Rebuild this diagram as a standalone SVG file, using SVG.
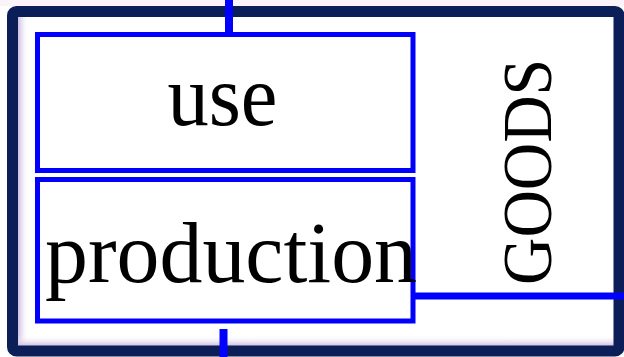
<svg xmlns="http://www.w3.org/2000/svg" width="624" height="357" viewBox="0 0 624 357">
  <style>
    .box { fill: none; stroke: #0000ff; stroke-width: 5; }
    .wire { stroke: #0000ff; fill: none; }
    .lbl { font-family: "Liberation Serif", "Times New Roman", serif; fill: #000; }
  </style>
  <defs>
    <linearGradient id="shL" x1="0" y1="0" x2="1" y2="0">
      <stop offset="0" stop-color="#cdbde0"/>
      <stop offset="1" stop-color="#ffffff" stop-opacity="0"/>
    </linearGradient>
    <linearGradient id="shB" x1="0" y1="1" x2="0" y2="0">
      <stop offset="0" stop-color="#cdbde0"/>
      <stop offset="1" stop-color="#ffffff" stop-opacity="0"/>
    </linearGradient>
  </defs>
  <rect x="0" y="0" width="624" height="357" fill="#ffffff"/>
  <rect x="0" y="0" width="624" height="6" fill="#fbf3fa"/>
  <g id="frame">
    <rect x="18" y="17" width="11" height="329" fill="url(#shL)"/>
    <rect x="18" y="335" width="596" height="11" fill="url(#shB)"/>
    <rect x="12.5" y="11.5" width="606.5" height="339.5" rx="4" fill="none" stroke="#0b1e58" stroke-width="11"/>
  </g>
  <g id="connectors">
    <line class="wire" x1="229" y1="0" x2="229" y2="33" stroke-width="8"/>
    <line class="wire" x1="223.5" y1="329" x2="223.5" y2="357" stroke-width="8"/>
    <line class="wire" x1="413" y1="296" x2="624" y2="296" stroke-width="7"/>
  </g>
  <g id="use">
    <rect class="box" x="37.5" y="34.5" width="375.5" height="136"/>
    <text class="lbl" x="222.5" y="125" font-size="86" text-anchor="middle" textLength="110" lengthAdjust="spacingAndGlyphs">use</text>
  </g>
  <g id="production">
    <rect class="box" x="37.5" y="179.5" width="375.5" height="141.5"/>
    <text class="lbl" x="45" y="282" font-size="86" textLength="372" lengthAdjust="spacingAndGlyphs">production</text>
  </g>
  <g id="goods">
    <text class="lbl" transform="translate(551,285) rotate(-90)" x="0" y="0" font-size="70" textLength="226" lengthAdjust="spacingAndGlyphs">GOODS</text>
  </g>
</svg>
